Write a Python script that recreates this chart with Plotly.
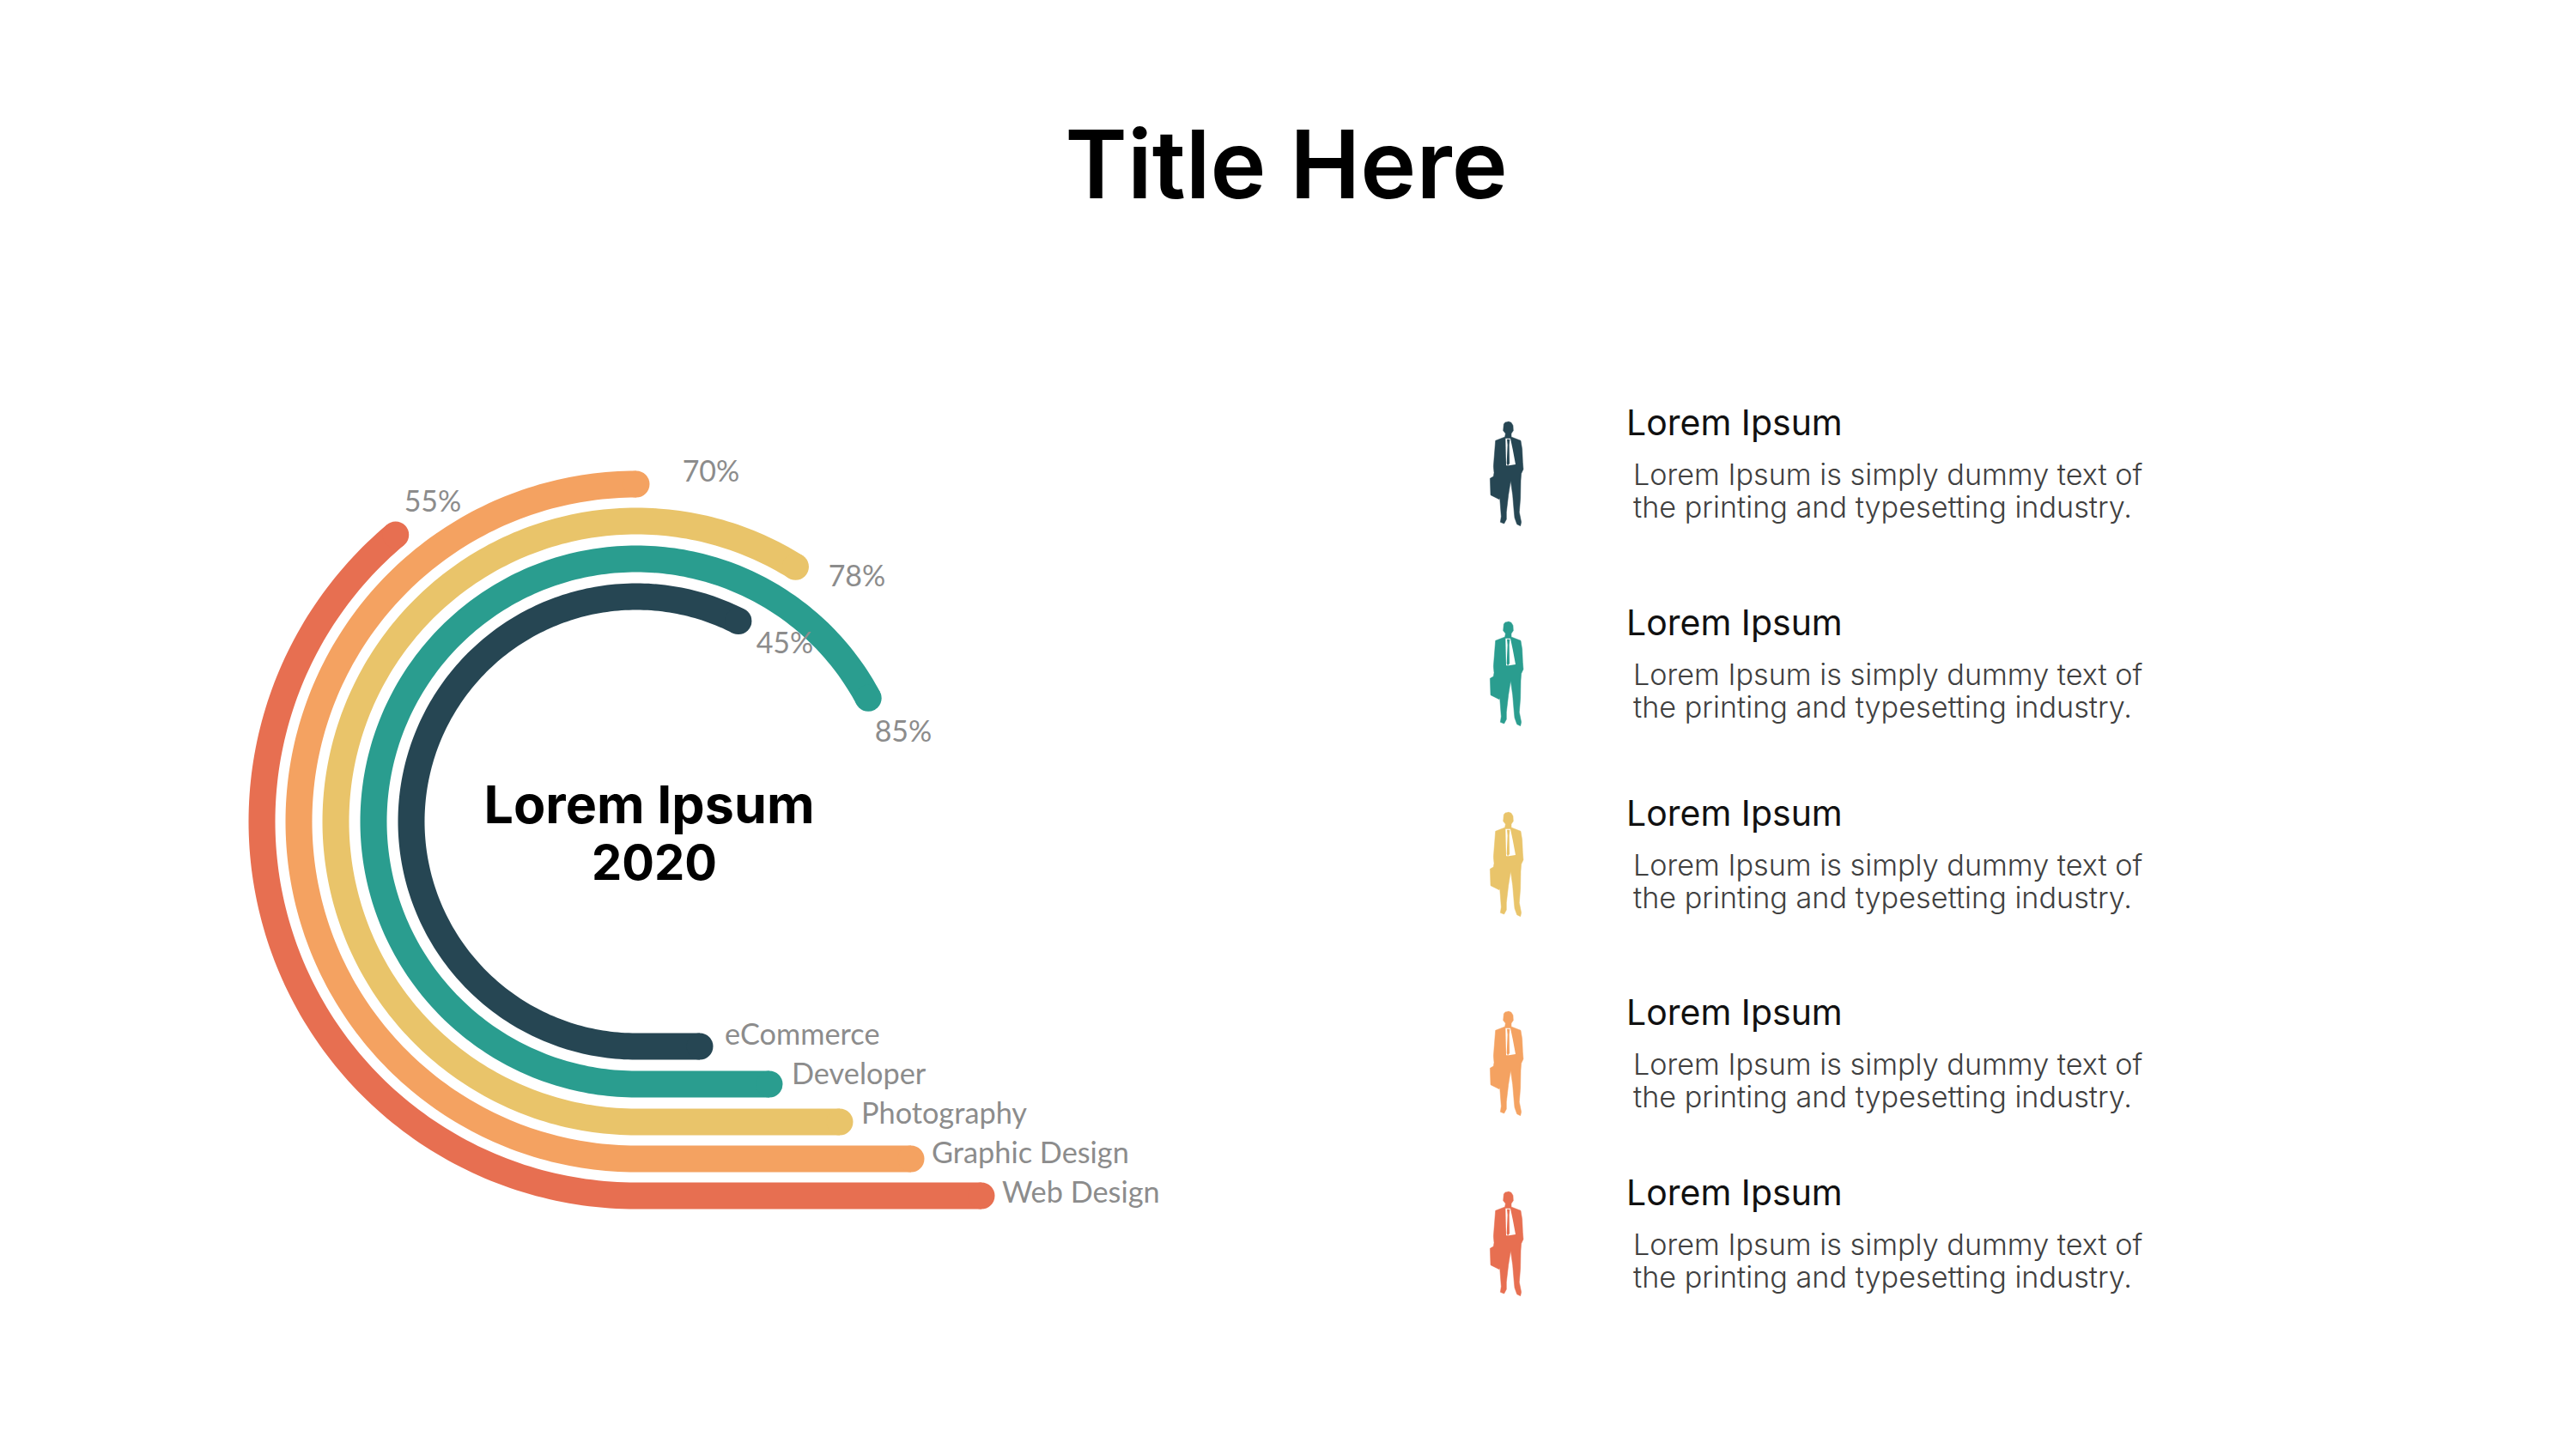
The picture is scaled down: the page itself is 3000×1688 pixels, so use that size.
import numpy as np
import plotly.graph_objects as go

# ---- data ----
categories = ["Web Design", "Graphic Design", "Photography", "Developer", "eCommerce"]
percent_labels = ["55%", "70%", "78%", "85%", "45%"]
sweep_deg = [140, 180, 212, 242, 207]
bar_end_x = [1143, 1061, 978, 896, 815]
radii = [436, 393, 350, 306, 262]
colors = ["#E76F51", "#F4A261", "#E9C46A", "#2A9D8F", "#264653"]

percent_x = [504, 828, 998, 1052, 914]
percent_y = [587, 552, 674, 855, 752]
category_x = [1167, 1085, 1003, 922, 844]
category_y = [1392, 1346, 1300, 1254, 1208]

heading = "Lorem Ipsum"
body_1 = "Lorem Ipsum is simply dummy text of"
body_2 = "the printing and typesetting industry."
row_colors = ["#264653", "#2A9D8F", "#E9C46A", "#F4A261", "#E76F51"]
row_offset = [0, 233, 455, 687, 897]

# silhouette outlines (zoom-crop units, 3 per pixel)
man_x = [140,150,156,157,150,150,183,188,190,192,185,183,182,178,185,182,170,162,160,155,148,140,133,133,125,112,115,110,108,78,76,88,90,88,95,128,130,122,124,130]
man_y = [33,37,47,65,75,87,100,130,175,200,215,240,300,350,385,398,392,370,350,290,240,290,350,375,390,385,365,300,305,290,232,225,212,190,100,87,75,65,42,35]
shirt_x = [130,147,155,165,142,132]
shirt_y = [92,92,130,183,187,187]
tie_x = [135,145,143,144,138,134,137]
tie_y = [95,95,115,180,187,180,115]

CX, CY = 741, 957
FONT_LABEL = "Lato"
FONT_HEAD = "Inter"

fig = go.Figure()

for name, r, sw, xe, c in zip(categories, radii, sweep_deg, bar_end_x, colors):
    a = np.radians(np.arange(0, sw + 0.5, 1.0))
    x = np.concatenate([[xe], CX - r * np.sin(a)])
    y = np.concatenate([[CY + r], CY + r * np.cos(a)])
    fig.add_trace(go.Scatter(x=x, y=y, mode="lines", name=name,
                             line=dict(color=c, width=31, simplify=False), hoverinfo="skip"))
    fig.add_trace(go.Scatter(x=[x[0], x[-1]], y=[y[0], y[-1]], mode="markers",
                             marker=dict(color=c, size=31, line=dict(width=0)), hoverinfo="skip"))

def text(xs, ys, labels, size, color, family, pos="middle center", weight=400):
    fig.add_trace(go.Scatter(x=xs, y=ys, text=labels, mode="text", textposition=pos,
                             textfont=dict(size=size, color=color, family=family, weight=weight),
                             hoverinfo="skip"))

text(percent_x, percent_y, percent_labels, 34, "#8C8C8C", FONT_LABEL)
text(category_x, category_y, categories, 34.3, "#8C8C8C", FONT_LABEL, "middle right")

text([1498], [203], ["Title Here"], 110, "#000000", FONT_HEAD, weight=600)
text([756], [944], ["Lorem Ipsum"], 61, "#000000", FONT_HEAD, weight=700)
text([762], [1011], ["2020"], 56, "#000000", FONT_HEAD, weight=700)

for off, c in zip(row_offset, row_colors):
    fx = lambda v: 1710 + np.array(v) / 3
    fy = lambda v: 480 + off + np.array(v) / 3
    fig.add_trace(go.Scatter(x=fx(man_x), y=fy(man_y), mode="lines", fill="toself",
                             fillcolor=c, line=dict(color=c, width=0.5, simplify=False), hoverinfo="skip"))
    fig.add_trace(go.Scatter(x=fx(shirt_x), y=fy(shirt_y), mode="lines", fill="toself",
                             fillcolor="#FFFFFF", line=dict(width=0, simplify=False), hoverinfo="skip"))
    fig.add_trace(go.Scatter(x=fx(tie_x), y=fy(tie_y), mode="lines", fill="toself",
                             fillcolor=c, line=dict(width=0, simplify=False), hoverinfo="skip"))
    text([1894], [497 + off], [heading], 41, "#111111", FONT_HEAD, "middle right", 400)
    text([1902, 1902], [556 + off, 594 + off], [body_1, body_2], 34.2, "#404040", FONT_HEAD, "middle right", 300)

fig.update_layout(
    width=3000, height=1688, margin=dict(l=0, r=0, t=0, b=0),
    paper_bgcolor="white", plot_bgcolor="white", showlegend=False,
    xaxis=dict(range=[0, 3000], visible=False, fixedrange=True),
    yaxis=dict(range=[1688, 0], visible=False, fixedrange=True),
)
fig.write_html("out.html", config={"displayModeBar": False},
               post_script="document.body.style.margin='0';")
